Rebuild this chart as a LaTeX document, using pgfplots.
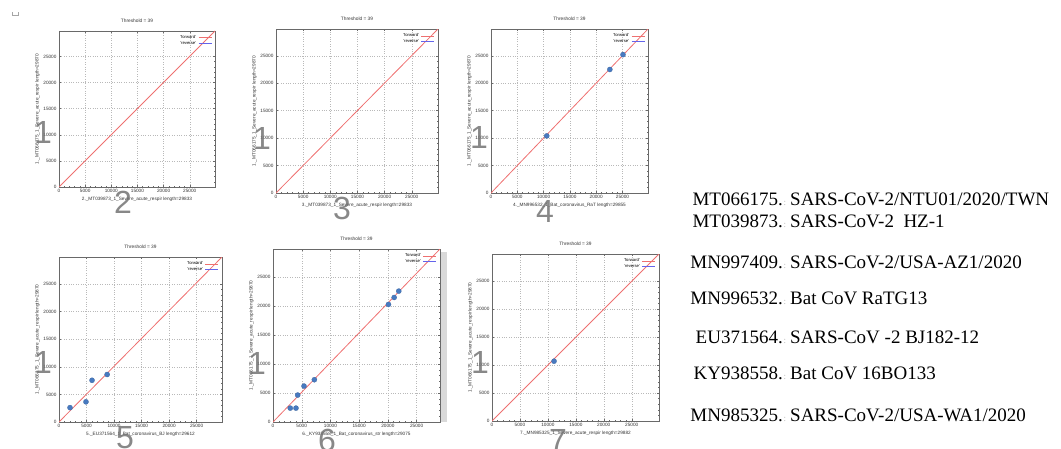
\documentclass[border=0pt]{standalone}
\usepackage{fontspec}
\setmainfont{Liberation Serif}
\setsansfont{Liberation Sans}
\usepackage{pgfplots}
\pgfplotsset{compat=1.18}
\definecolor{fwd}{RGB}{238,112,112}
\definecolor{rev}{RGB}{100,100,235}
\definecolor{ptc}{RGB}{72,122,192}
\definecolor{bord}{RGB}{105,105,105}
\pgfplotsset{
  dot/.style={
    scale only axis, xmin=0, ymin=0, ymax=29870,
    xtick={0,5000,...,25000}, ytick={0,5000,...,25000},
    scaled ticks=false,
    /pgf/number format/1000 sep={}, /pgf/number format/assume math mode=true,
    tick label style={font=\sffamily\fontsize{4.7}{5}\selectfont, text=black!80},
    label style={font=\sffamily\fontsize{4.7}{5}\selectfont, text=black!80},
    title style={font=\sffamily\fontsize{4.8}{5}\selectfont, text=black!80, yshift=-1pt},
    title={Threshold = 39},
    grid=major, grid style={dotted, gray!55},
    axis line style={bord, line width=0.7pt},
    tick style={bord, line width=0.4pt},
    major tick length=2pt, minor tick length=1.2pt,
    minor x tick num=4, minor y tick num=4,
    xticklabel style={yshift=1pt}, yticklabel style={xshift=1pt},
    xlabel style={yshift=3pt}, ylabel style={yshift=-3pt},
    legend style={at={(rel axis cs:0.985,0.988)}, anchor=north east, draw=none, fill=none,
      font=\sffamily\fontsize{4.2}{4.5}\selectfont, row sep=-3pt, inner sep=0.5pt},
    legend cell align=right, legend plot pos=right,
    legend image code/.code={\draw[#1, line width=0.8pt] (0pt,0pt) -- (13pt,0pt);},
    ylabel={1.\_MT066175\_1\_Severe\_acute\_respir length=29870},
  },
  pts/.style={only marks, mark=*, mark size=2.6pt, mark options={fill=ptc, draw=ptc!80!black, line width=0.2pt}, forget plot},
}
\begin{document}
\begin{tikzpicture}[x=1pt,y=1pt]
\useasboundingbox (0,0) rectangle (1061,448);
% panel 1
\begin{axis}[dot, at={(59pt,261pt)}, anchor=south west, width=156pt, height=156pt, xmax=29833,
  xlabel={2.\_MT039873\_1\_Severe\_acute\_respir length=29833}]
\addplot[fwd, line width=0.8pt] coordinates {(0,0) (29833,29870)};
\addlegendentry{'forward'}
\addlegendimage{color=rev}
\addlegendentry{'reverse'}
\end{axis}
% panel 2
\begin{axis}[dot, at={(276pt,255pt)}, anchor=south west, width=162pt, height=164pt, xmax=29833,
  xlabel={3.\_MT039873\_1\_Severe\_acute\_respir length=29833}]
\addplot[fwd, line width=0.8pt] coordinates {(0,0) (29833,29870)};
\addlegendentry{'forward'}
\addlegendimage{color=rev}
\addlegendentry{'reverse'}
\end{axis}
% panel 3
\begin{axis}[dot, at={(491pt,255pt)}, anchor=south west, width=157pt, height=164pt, xmax=29855,
  xlabel={4.\_MN996532\_1\_Bat\_coronavirus\_RaT length=29855}]
\addplot[fwd, line width=0.8pt] coordinates {(0,0) (29855,29870)};
\addlegendentry{'forward'}
\addlegendimage{color=rev}
\addlegendentry{'reverse'}
\addplot[pts] coordinates {(10600,10400) (22600,22500) (25100,25200)};
\end{axis}
% panel 4
\begin{axis}[dot, at={(59pt,26pt)}, anchor=south west, width=163pt, height=165pt, xmax=29612,
  xlabel={5.\_EU371564\_1\_Bat\_coronavirus\_BJ length=29612}]
\addplot[fwd, line width=0.8pt] coordinates {(0,0) (29612,29870)};
\addlegendentry{'forward'}
\addlegendimage{color=rev}
\addlegendentry{'reverse'}
\addplot[pts] coordinates {(2000,2600) (4900,3650) (6000,7550) (8750,8600)};
\end{axis}
% panel 5
\fill[gray!30] (440,26) rectangle (447,196);
\begin{axis}[dot, at={(273pt,26pt)}, anchor=south west, width=167pt, height=173pt, xmax=29075,
  xlabel={6.\_KY938558\_1\_Bat\_coronavirus\_str length=29075}]
\addplot[fwd, line width=0.8pt] coordinates {(0,0) (29075,29870)};
\addlegendentry{'forward'}
\addlegendimage{color=rev}
\addlegendentry{'reverse'}
\addplot[pts] coordinates {(3000,2400) (4000,2400) (4300,4650) (5400,6200) (7200,7300) (20100,20300) (21100,21500) (21900,22600)};
\end{axis}
% panel 6
\begin{axis}[dot, at={(492pt,27pt)}, anchor=south west, width=167pt, height=167pt, xmax=29882,
  xlabel={7.\_MN985325\_1\_Severe\_acute\_respir length=29882}]
\addplot[fwd, line width=0.8pt] coordinates {(0,0) (29882,29870)};
\addlegendentry{'forward'}
\addlegendimage{color=rev}
\addlegendentry{'reverse'}
\addplot[pts] coordinates {(11100,10700)};
\end{axis}
% big gray numbers
\begin{scope}[every node/.style={font=\sffamily\fontsize{32}{32}\selectfont, text=black!55, opacity=0.85, inner sep=0pt}]
\node at (43,316) {1};  \node at (123,246) {2};
\node at (262,310) {1}; \node at (342,240) {3};
\node at (479,311) {1}; \node at (545,237) {4};
\node at (43,86) {1};   \node at (125,10) {5};
\node at (257,85) {1};  \node at (327,8) {6};
\node at (480,86) {1};  \node at (558,8) {7};
\end{scope}
% small mark top-left
\draw[gray!70, line width=0.6pt] (12,436) -- (12,433) -- (18,433) -- (18,436);
% list
\begin{scope}[every node/.style={font=\fontsize{19}{20}\selectfont, inner sep=0pt}]
\foreach \y/\id/\txt in {242/MT066175./{SARS-CoV-2/NTU01/2020/TWN}, 220/MT039873./{SARS-CoV-2\ \ HZ-1}, 180/MN997409./{SARS-CoV-2/USA-AZ1/2020}, 144/MN996532./{Bat CoV RaTG13}, 105/EU371564./{SARS-CoV -2 BJ182-12}, 69/KY938558./{Bat CoV 16BO133}, 27/MN985325./{SARS-CoV-2/USA-WA1/2020}}{
  \node[anchor=base east] at (783,\y) {\id};
  \node[anchor=base west, text=gray!60, font=\fontsize{9}{9}\selectfont] at (783.5,\y) {:};
  \node[anchor=base west] at (790,\y) {\txt};
}
\end{scope}
\end{tikzpicture}
\end{document}
